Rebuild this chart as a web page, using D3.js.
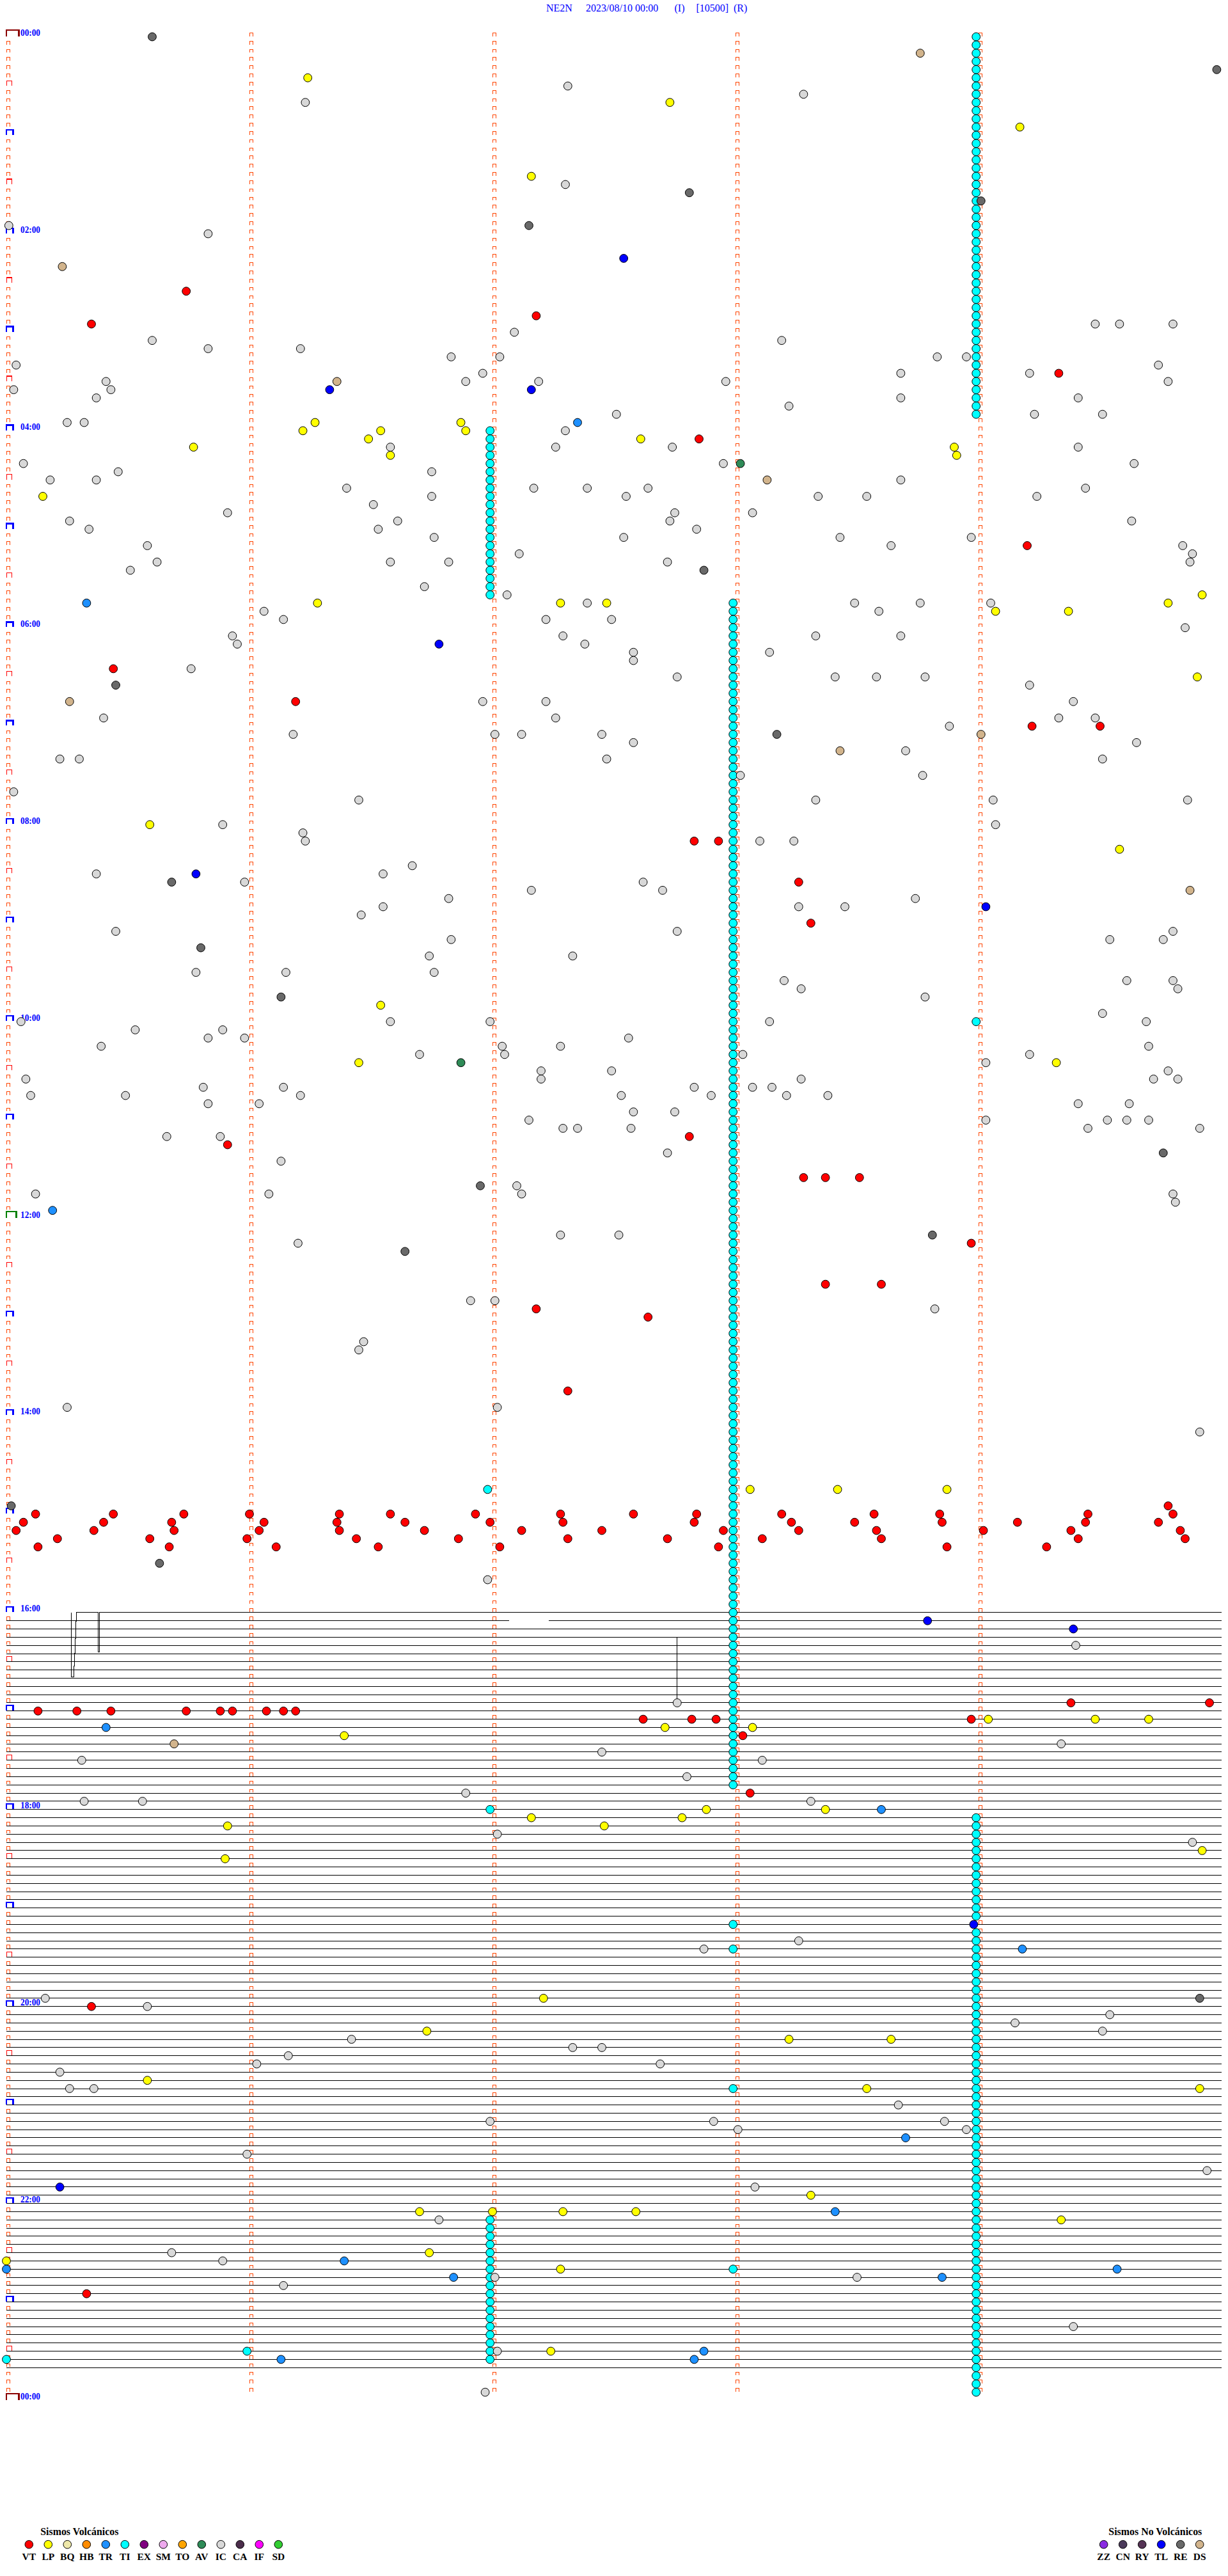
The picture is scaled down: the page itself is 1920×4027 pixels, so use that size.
<!DOCTYPE html>
<html><head><meta charset="utf-8">
<script src="https://cdn.jsdelivr.net/npm/d3@7"></script>
<style>body{margin:0;background:#fff}svg{display:block}</style>
</head><body>
<svg id="c" width="1920" height="4027"></svg>
<script>
// ---------------- DATA ----------------
const ROWS = 288;            // 5-minute rows, 00:00 -> 24:00
const ROW_MINUTES = 5;
const header = ["NE2N", "2023/08/10 00:00", "(I)", "[10500]", "(R)"];
const timeLabels = ["00:00","02:00","04:00","06:00","08:00","10:00","12:00","14:00","16:00","18:00","20:00","22:00","00:00"];
const volcanicTypes = ["VT","LP","BQ","HB","TR","TI","EX","SM","TO","AV","IC","CA","IF","SD"];
const nonVolcanicTypes = ["ZZ","CN","RY","TL","RE","DS"];
const traceFirstRow = 192, traceLastRow = 284;
// waveform pieces: [minute within row, amplitude in rows]
const trace192 = [[0.2666,0],[0.2666,7.82],[0.2789,7.82],[0.2789,6.55],[0.2808,6.55],[0.2808,4.99],[0.2829,4.99],[0.2829,3.2],[0.2855,3.2],[0.2855,1.09],[0.2876,1.09],[0.2876,0],
  [0.3771,0],[0.3771,4.83],[0.3816,4.83],[0.3816,3.04],[0.3829,3.04],[0.3829,1.48],[0.3842,1.48],[0.3842,0],[5,0]];
const trace193 = [[[0,0],[2.068,0]],[[2.232,0],[5,0]]];
const trace195 = [[0,0],[2.758,0],[2.758,8.0],[2.7585,0],[5,0]];

// events: minutes after 00:00
const VT = [155.74,172.18,175.35,209.33,247.85,314.2,385.44,406.19,424.22,424.5,492.83,492.93,518.26,543.31,672.81,675.91,698.28,698.37,698.51,738.97,763.37,763.6,777.18,782.64,827.31,
  900.12,900.44,900.73,901.0,901.37,905.07,905.4,905.68,906.06,906.36,910.04,910.36,910.69,911.04,911.37,915.21,915.59,915.99,916.44,920.13,920.67,921.11,921.53,
  901.58,906.64,911.72,916.86,901.93,906.99,922.03,912.12,902.28,907.29,917.31,912.45,902.58,917.72,902.84,907.83,922.93,912.95,918.11,903.19,908.23,913.26,908.49,903.57,913.58,918.6,903.84,908.85,923.87,914.02,909.16,924.28,914.38,909.44,919.41,904.45,899.78,904.8,909.74,914.83,919.85,
  1019.38,1019.95,1020.13,1020.29,1020.43,1020.74,1020.88,1020.93,1021.07,1021.14,1021.19,1027.62,1027.82,1027.92,1028.97,1038.03,1073.06,1200.35,1375.33];
const LP = [26.24,42.73,59.17,87.16,236.27,236.87,241.22,241.54,241.89,246.49,247.61,250.77,253.9,256.58,258.91,280.15,344.92,346.28,347.28,347.47,349.78,354.07,354.37,394.9,480.59,499.58,591.54,626.45,629.32,
  888.06,888.42,888.87,1029.04,1029.48,1029.7,1032.71,1033.07,1036.39,1082.88,1083.37,1087.16,1087.78,1090.91,1092.46,1109.92,1110.9,1197.21,1216.73,1223.22,1223.64,1245.58,1253.54,1254.91,
  1318.31,1326.7,1327.0,1327.29,1327.59,1334.34,1351.74,1355.0,1362.28,1412.24];
const TR = [237.35,345.33,715.19,1030.41,1083.6,1169.18,1283.7,1328.41,1356.39,1360.0,1364.57,1366.84,1368.85,1412.87,1416.13,1417.83];
const TI = [3.99,8.99,13.99,18.99,23.99,28.99,33.99,38.99,43.99,48.99,53.99,58.99,63.99,68.99,73.99,78.99,83.99,88.99,93.99,98.99,
  103.99,108.99,113.99,118.99,123.99,128.99,133.99,138.99,143.99,148.99,153.99,158.99,163.99,168.99,173.99,178.99,183.99,188.99,193.99,198.99,
  203.99,208.99,213.99,218.99,223.99,228.99,233.99,
  241.99,246.99,251.99,256.99,261.99,266.99,271.99,276.99,281.99,286.99,291.99,296.99,301.99,306.99,311.99,316.99,321.99,326.99,331.99,336.99,341.99,
  347.99,352.99,357.99,362.99,367.99,372.99,377.99,382.99,387.99,392.99,397.99,402.99,407.99,412.99,417.99,422.99,427.99,432.99,437.99,442.99,
  447.99,452.99,457.99,462.99,467.99,472.99,477.99,482.99,487.99,492.99,497.99,502.99,507.99,512.99,517.99,522.99,527.99,532.99,537.99,542.99,
  547.99,552.99,557.99,562.99,567.99,572.99,577.99,582.99,587.99,592.99,597.99,602.99,607.99,612.99,617.99,622.99,627.99,632.99,637.99,642.99,
  647.99,652.99,657.99,662.99,667.99,672.99,677.99,682.99,687.99,692.99,697.99,702.99,707.99,712.99,717.99,722.99,727.99,732.99,737.99,742.99,
  747.99,752.99,757.99,762.99,767.99,772.99,777.99,782.99,787.99,792.99,797.99,802.99,807.99,812.99,817.99,822.99,827.99,832.99,837.99,842.99,
  847.99,852.99,857.99,862.99,867.99,872.99,877.99,882.99,887.99,892.99,897.99,902.99,907.99,912.99,917.99,922.99,927.99,932.99,937.99,942.99,
  947.99,952.99,957.99,962.99,967.99,972.99,977.99,982.99,987.99,992.99,997.99,1002.99,1007.99,1012.99,1017.99,1022.99,1027.99,1032.99,1037.99,1042.99,
  1047.99,1052.99,1057.99,1062.99,1067.99,
  1088.99,1093.99,1098.99,1103.99,1108.99,1113.99,1118.99,1123.99,1128.99,1133.99,1138.99,1143.99,1148.99,1158.99,1163.99,1168.99,1173.99,1178.99,1183.99,1188.99,
  1193.99,1198.99,1203.99,1208.99,1213.99,1218.99,1223.99,1228.99,1233.99,1238.99,1243.99,1248.99,1253.99,1258.99,1263.99,1268.99,1273.99,1278.99,1283.99,1288.99,
  1293.99,1298.99,1303.99,1308.99,1313.99,1318.99,1323.99,1328.99,1333.99,1338.99,1343.99,1348.99,1353.99,1358.99,1363.99,1368.99,1373.99,1378.99,1383.99,1388.99,
  1393.99,1398.99,1403.99,1408.99,1413.99,1418.99,1423.99,1428.99,1433.99,1438.99,
  1331.99,1336.99,1341.99,1346.99,1351.99,1356.99,1361.99,1366.99,1371.99,1376.99,1381.99,1386.99,1391.99,1396.99,1401.99,1406.99,1411.99,1416.99,
  603.99,886.98,1081.99,1152.99,1167.99,1252.99,1362.99,1410.99,1415.0];
const AV = [263.02,626.87];
const IC = [32.31,38.28,41.23,92.3,115.01,120.83,179.48,179.58,179.8,182.09,185.6,188.19,190.83,191.21,196.83,197.03,198.83,198.95,200.04,204.74,206.96,208.68,209.21,210.41,211.89,212.19,212.96,214.78,215.03,215.43,220.37,223.68,224.41,228.22,232.51,234.23,234.51,235.25,235.32,242.3,251.58,252.26,252.74,254.41,260.07,262.95,264.64,265.46,266.75,270.18,270.37,273.68,276.4,277.17,277.39,277.64,279.44,281.75,282.55,283.34,283.54,284.24,286.51,290.91,292.75,293.07,295.26,296.61,297.73,299.63,300.34,301.53,302.84,306.76,307.54,308.43,308.97,310.58,313.64,314.84,317.11,319.88,320.62,321.58,321.82,322.72,324.87,325.51,336.72,342.06,347.39,348.49,348.76,349.05,351.06,353.59,356.14,357.22,357.49,364.85,365.93,367.29,368.33,368.68,370.95,372.38,377.58,378.14,382.58,385.76,392.76,393.41,393.58,393.78,399.21,406.96,407.22,409.39,415.4,417.26,419.33,419.48,423.88,426.18,427.01,427.12,427.45,432.58,434.65,438.7,440.22,440.3,442.47,444.51,453.02,453.77,460.03,466.45,468.33,469.06,469.86,480.89,484.07,486.22,491.23,493.1,493.24,506.67,510.37,511.55,515.98,517.62,522.16,522.7,526.82,528.74,531.55,533.26,533.45,536.46,545.45,547.76,549.8,551.83,554.54,554.76,561.74,562.33,570.78,571.15,571.76,578.2,579.61,579.8,583.27,584.82,588.78,599.51,600.06,601.58,601.99,603.14,604.69,605.53,605.89,610.83,610.98,612.56,615.39,617.04,617.28,619.7,621.7,622.05,623.03,624.21,629.03,632.2,632.49,634.78,635.08,637.2,638.27,639.72,639.82,640.81,641.14,642.83,643.07,643.15,645.1,645.49,646.21,647.53,647.9,648.21,648.38,650.83,651.04,654.41,654.62,657.58,657.75,662.15,664.03,664.53,664.61,664.7,667.29,667.35,667.57,669.45,669.91,670.66,670.88,682.72,686.13,702.1,705.12,706.08,707.12,709.8,714.81,732.28,732.52,736.2,771.91,772.01,778.82,796.47,801.45,835.25,837.02,854.91,941.98,984.4,1017.76,1044.34,1047.45,1050.31,1053.11,1062.8,1071.89,1075.32,1075.56,1078.31,1097.02,1104.88,1163.26,1167.87,1195.16,1200.58,1209.54,1214.15,1219.51,1221.42,1227.33,1227.45,1231.16,1236.03,1237.69,1240.22,1250.26,1250.36,1263.67,1271.99,1272.91,1273.86,1278.01,1278.95,1290.99,1304.94,1313.08,1331.78,1350.68,1355.89,1367.01,1368.5,1371.14,1399.39,1412.02,1436.97];
const RE = [0.6,24.98,97.81,104.01,117.15,327.87,395.45,428.17,515.68,555.8,586.13,684.76,701.95,733.81,741.64,895.02,930.63,1199.91];
const TL = [137.54,216.33,217.16,371.78,510.78,534.03,968.79,974.39,1153.98,1310.22];
const DS = [13.76,140.23,211.36,273.13,405.26,429.01,438.43,524.87,1040.69];
const eventSeries = {VT, LP, TR, TI, AV, IC, RE, TL, DS};

// ---------------- STYLE ----------------
const typeColor = {VT:'#FF0000',LP:'#FFFF00',BQ:'#EEE8AA',HB:'#FF8C00',TR:'#1E90FF',TI:'#00FFFF',EX:'#800080',SM:'#EEAAEE',TO:'#FFA500',AV:'#2E8B57',IC:'#D8D8D8',CA:'#4B2D4B',IF:'#FF00FF',SD:'#32CD32',
  ZZ:'#8A2BE2',CN:'#4B3A5A',RY:'#553355',TL:'#0000FF',RE:'#696969',DS:'#D2B48C'};
const SERIF = "'Liberation Serif','Times New Roman',Times,serif";

// ---------------- DRAW ----------------
const svg = d3.select('#c');
const x = d3.scaleLinear().domain([0, ROW_MINUTES]).range([10, 1910]);
const y = d3.scaleLinear().domain([0, ROWS]).range([57.5, 57.5 + ROWS * 12.83]);

// header
const hx = [854, 916, 1054.5, 1088.5, 1147];
svg.append('g').selectAll('text').data(header).join('text')
  .attr('x', (d,i)=>hx[i]).attr('y', 18.3).attr('font-family', SERIF).attr('font-size', 16)
  .attr('fill', '#0000FF').text(d=>d);

// traces
const gT = svg.append('g').attr('fill','none').attr('stroke','#000').attr('stroke-width',1).attr('shape-rendering','crispEdges');
const lineOf = r => d3.line().x(p=>x(p[0])).y(p=>y(r + p[1]));
const traces = [];
for (let r = traceFirstRow; r <= traceLastRow; r++) {
  if (r === 192) traces.push({r, pts: trace192});
  else if (r === 193) trace193.forEach(p=>traces.push({r, pts: p}));
  else if (r === 195) traces.push({r, pts: trace195});
  else traces.push({r, pts: [[0,0],[ROW_MINUTES,0]]});
}
gT.selectAll('path').data(traces).join('path').attr('d', d=>lineOf(d.r)(d.pts));

// minute markers
const gM = svg.append('g').attr('fill','none').attr('shape-rendering','crispEdges');
const mk = (x0, yb, w, h) => `M${x0},${yb}V${yb-h}H${x0+w}V${yb}`;
const marks = [];
for (let r = 0; r <= ROWS; r++) {
  for (let c = 0; c < ROW_MINUTES; c++) {
    if (r === ROWS && c > 0) continue;
    const yb = y(r) - 0.8;
    if (c === 0) {
      if (r === 0 || r === ROWS) marks.push({d: mk(x(0), yb, 19.5, 9.5), s:'#8B0000', w:2.4});
      else if (r === 144) marks.push({d: mk(x(0), yb, 15.5, 10.2), s:'#008000', w:2.4});
      else if (r % 12 === 0) marks.push({d: mk(x(0), yb, 10.5, 8), s:'#0000FF', w:2.2});
      else if (r % 6 === 0) marks.push({d: mk(x(0)+0.5, yb, 8, 7.6), s:'#FF0000', w:1.1});
      else marks.push({d: mk(x(0)+0.5, yb, 5, 5.2), s:'#FF4500', w:1});
    } else {
      marks.push({d: mk(x(c)+0.5, yb, 5, 5.2), s:'#FF4500', w:1});
    }
  }
}
gM.selectAll('path').data(marks).join('path').attr('d', d=>d.d).attr('stroke', d=>d.s).attr('stroke-width', d=>d.w);

// time labels
svg.append('g').selectAll('text').data(timeLabels).join('text')
  .attr('x', 32).attr('y', (d,i)=>y(i*24) - 1.5)
  .attr('font-family', SERIF).attr('font-weight','bold').attr('font-size', 14).attr('fill','#0000FF')
  .attr('textLength', 31).attr('lengthAdjust','spacingAndGlyphs').text(d=>d);

// events
const events = [];
Object.entries(eventSeries).forEach(([k, arr]) => arr.forEach(t => events.push({k, t})));
events.sort((a,b)=>a.t-b.t);
svg.append('g').attr('stroke','#000').attr('stroke-width',1).selectAll('circle').data(events).join('circle')
  .attr('cx', d => { const r = Math.floor(d.t / ROW_MINUTES + 1e-9); return x(d.t - r*ROW_MINUTES); })
  .attr('cy', d => y(Math.floor(d.t / ROW_MINUTES + 1e-9)))
  .attr('r', 6.4).attr('fill', d=>typeColor[d.k]);

// legends
function legend(types, x0, title, titleX, titleW) {
  const g = svg.append('g');
  g.append('text').attr('x', titleX).attr('y', 3962.5).attr('font-family', SERIF).attr('font-weight','bold')
    .attr('font-size', 16).attr('textLength', titleW).attr('lengthAdjust','spacingAndGlyphs').attr('fill','#000').text(title);
  const s = g.selectAll('g.it').data(types).join('g').attr('class','it')
    .attr('transform', (d,i)=>`translate(${x0 + i*30},0)`);
  s.append('circle').attr('cy', 3977.7).attr('r', 6.3).attr('fill', d=>typeColor[d]).attr('stroke','#000').attr('stroke-width',1);
  s.append('text').attr('y', 4002).attr('text-anchor','middle').attr('font-family', SERIF).attr('font-weight','bold')
    .attr('font-size', 15.5).attr('fill','#000').text(d=>d);
}
legend(volcanicTypes, 45.3, 'Sismos Volcánicos', 63.3, 122);
legend(nonVolcanicTypes, 1725.7, 'Sismos No Volcánicos', 1733.3, 146);
</script>
</body></html>
